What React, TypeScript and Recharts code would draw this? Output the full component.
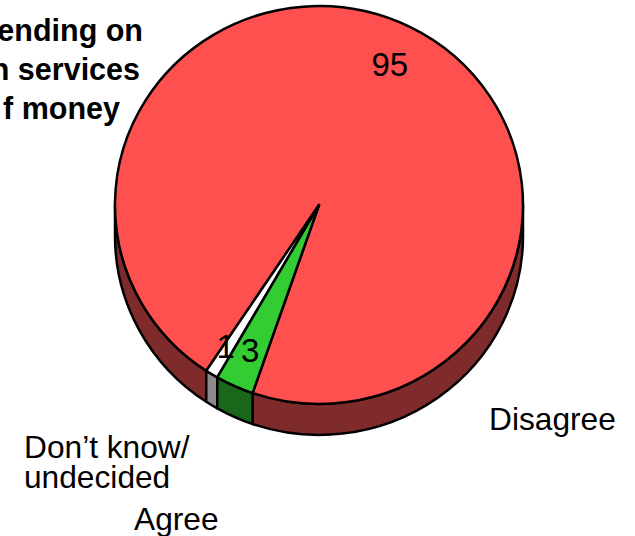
import React from "react";
import { PieChart, Pie, Cell } from "recharts";

const names = ["Disagree", "Don’t know/undecided", "Agree"];
const values = [95, 1, 3];
const topColors = ["#ff5050", "#ffffff", "#33cc33"];
const sideColors = ["#802b2b", "#8c8c8c", "#1a661a"];
const titleLines = ["ending on", "n services", "f money"];

const data = names.map((name, i) => ({ name, value: values[i], side: sideColors[i] }));

const RAD = Math.PI / 180;
const SQUASH = 0.975; // pie is a bit flatter than a circle
const DEPTH = 31;
const labelRadius = [0.785, 0.845, 0.805];
const labelTilt = [0, -1, -0.3];

const point = (cx: number, cy: number, r: number, deg: number) => ({
  x: cx + r * Math.cos(deg * RAD),
  y: cy - r * SQUASH * Math.sin(deg * RAD),
});

// one slice: top face as an elliptical sector plus the visible part of the rim
const Slice3D = (props: any) => {
  const { cx, cy, outerRadius: r, startAngle, endAngle, fill, side } = props;
  const from = Math.min(startAngle, endAngle);
  const to = Math.max(startAngle, endAngle);
  const a = point(cx, cy, r, from);
  const b = point(cx, cy, r, to);
  const large = to - from > 180 ? 1 : 0;
  const top = `M${cx},${cy} L${a.x},${a.y} A${r},${r * SQUASH} 0 ${large} 0 ${b.x},${b.y} Z`;

  const walls: string[] = [];
  [[180, 360], [540, 720]].forEach(([lo, hi]) => {
    const s = Math.max(from, lo);
    const e = Math.min(to, hi);
    if (e <= s) return;
    const p = point(cx, cy, r, s);
    const q = point(cx, cy, r, e);
    walls.push(
      `M${p.x},${p.y} A${r},${r * SQUASH} 0 0 0 ${q.x},${q.y} L${q.x},${q.y + DEPTH} A${r},${r * SQUASH} 0 0 1 ${p.x},${p.y + DEPTH} Z`
    );
  });

  return (
    <g>
      {walls.map((d) => (
        <path key={d} d={d} fill={side} stroke="#000" strokeWidth={2.5} strokeLinejoin="round" />
      ))}
      <path d={top} fill={fill} stroke="#000" strokeWidth={2.5} strokeLinejoin="round" />
    </g>
  );
};

const renderValue = (props: any) => {
  const { cx, cy, midAngle, outerRadius, value, index } = props;
  const p = point(cx, cy, outerRadius * labelRadius[index], midAngle + labelTilt[index]);
  return (
    <text x={p.x} y={p.y} textAnchor="middle" dominantBaseline="central" fontSize={33} fill="#000">
      {value}
    </text>
  );
};

const labelStyle = { fontFamily: "'Liberation Sans', Arial, sans-serif", fontSize: 31.7, fill: "#000" };

export default function App() {
  return (
    <div style={{ position: "absolute", left: 0, top: 0, width: 635, height: 536, background: "#fff" }}>
      <PieChart width={635} height={536} margin={{ top: 0, right: 0, bottom: 0, left: 0 }} style={{ fontFamily: "'Liberation Sans', Arial, sans-serif" }}>
        <Pie
          data={data}
          dataKey="value"
          cx={319}
          cy={205}
          innerRadius={0}
          outerRadius={204}
          startAngle={251}
          endAngle={611}
          paddingAngle={0}
          stroke="#000"
          isAnimationActive={false}
          shape={Slice3D}
          label={renderValue}
          labelLine={false}
        >
          {data.map((entry, index) => (
            <Cell key={`cell-${index}`} fill={topColors[index]} />
          ))}
        </Pie>
        {titleLines.map((line, i) => (
          <text key={line} x={[143, 140, 120][i]} y={41 + i * 39} textAnchor="end" fontWeight="bold" {...labelStyle} fontSize={30.5}>
            {line}
          </text>
        ))}
        <text x={489} y={430} {...labelStyle}>Disagree</text>
        <text x={24} y={458} {...labelStyle}>Don’t know/</text>
        <text x={24} y={488} {...labelStyle}>undecided</text>
        <text x={134} y={530} {...labelStyle}>Agree</text>
      </PieChart>
    </div>
  );
}
